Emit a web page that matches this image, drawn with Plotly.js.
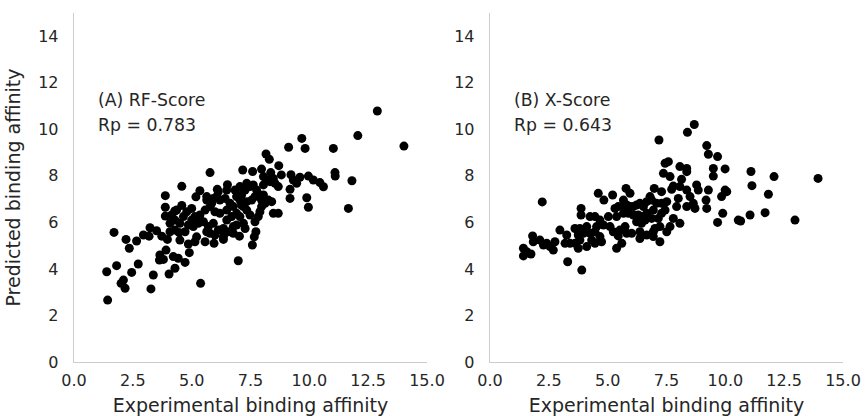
<!DOCTYPE html>
<html>
<head>
<meta charset="utf-8">
<script src="https://cdn.plot.ly/plotly-3.0.1.min.js"></script>
<style>html,body{margin:0;padding:0;background:#fff;}#chart{width:865px;height:416px;}</style>
</head>
<body>
<div id="chart"></div>
<script>
// Panel A: RF-Score (experimental vs predicted)
const rfExp = [12.89,12.06,9.68,9.12,9.82,11.02,8.16,8.30,8.70,5.78,7.17,7.59,7.97,8.36,8.81,9.22,9.60,9.96,11.09,11.10,11.81,11.66,9.89,9.96,9.18,9.18,10.17,10.45,10.60,9.32,9.46,8.47,8.68,8.40,6.52,6.09,5.18,4.58,3.88,3.88,3.88,4.28,4.58,1.70,2.21,2.35,2.66,2.95,3.23,3.19,3.51,3.73,3.97,4.46,1.39,1.81,1.43,2.00,2.17,2.10,2.45,2.73,3.27,3.37,3.65,3.80,3.63,3.91,4.04,4.29,4.22,4.43,4.72,4.90,4.86,5.38,6.98,7.58,7.66,7.73,7.03,6.35,5.95,5.57,5.21,5.14,14.02,
5.35,5.64,5.85,6.06,6.20,6.42,6.63,6.77,6.49,6.20,5.99,5.78,5.57,5.35,5.14,5.00,4.86,5.07,5.28,5.50,5.71,5.92,6.13,6.35,6.49,6.70,6.91,7.05,7.12,7.27,7.34,7.48,7.62,7.76,7.90,8.05,8.19,8.33,8.54,8.68,7.97,7.90,7.83,7.69,7.48,7.34,7.20,7.05,6.91,6.77,7.20,7.27,6.77,6.56,6.35,5.99,5.78,5.64,5.00,4.79,4.65,4.50,4.29,4.08,4.15,4.36,4.08,4.29,4.72,4.50,8.05,8.47,8.05,7.69,7.55,7.34,7.12,6.91,6.84,7.05,6.49,6.13,5.92,5.64,7.97,8.12,8.26];
const rfPred = [10.79,9.73,9.61,9.23,9.18,9.18,8.94,8.71,8.44,8.14,8.25,8.19,8.29,8.14,8.04,8.05,7.94,7.99,8.14,7.99,7.79,6.60,7.06,6.65,7.42,7.03,7.82,7.71,7.53,7.82,7.68,6.39,6.39,6.89,7.62,7.42,7.10,7.55,7.15,6.65,6.27,6.49,6.73,5.57,5.27,4.89,5.20,5.46,5.77,5.41,5.64,5.41,5.27,5.57,3.88,4.14,2.66,3.38,3.17,3.52,3.85,4.21,3.14,3.74,4.60,4.41,4.38,4.81,3.78,4.03,4.53,4.46,4.28,4.70,5.07,3.38,4.35,5.03,5.38,5.60,5.41,5.27,5.10,5.17,5.38,5.17,9.28,
7.36,6.96,6.82,7.11,6.96,7.03,6.82,6.68,6.53,6.39,6.46,6.68,6.53,6.32,6.25,6.10,5.89,5.82,5.96,6.03,5.82,5.96,5.67,5.74,6.10,6.25,6.39,6.96,7.18,7.39,7.68,7.54,7.61,7.39,7.18,7.18,7.82,7.75,7.68,7.54,6.68,6.46,6.25,6.03,6.32,6.53,6.68,6.25,5.89,5.82,5.96,5.74,5.53,5.60,5.39,5.46,5.53,5.60,6.60,6.46,6.25,5.96,6.10,5.96,6.32,6.53,5.60,5.67,5.60,5.24,7.97,7.89,7.61,7.11,6.96,6.89,6.75,7.11,7.39,7.54,7.39,7.32,7.03,7.11,6.96,6.82,6.96];

// Panel B: X-Score (experimental vs predicted)
const xsExp = [8.68,8.39,7.18,9.21,9.28,9.67,9.49,9.49,9.99,11.09,12.07,13.94,11.13,11.83,11.69,12.96,11.05,10.55,10.65,9.89,9.67,9.99,10.06,9.84,9.28,9.18,9.21,7.44,7.58,7.37,7.65,8.07,8.36,8.36,8.14,8.78,8.85,8.36,8.07,7.79,7.72,6.98,7.29,8.50,8.64,8.71,8.36,8.00,7.93,
7.79,8.07,7.65,7.51,7.22,7.01,6.94,7.22,7.29,7.44,7.29,7.51,7.08,6.94,6.87,7.15,6.80,6.87,6.66,6.52,6.37,6.23,6.09,5.95,5.81,5.67,5.45,5.31,6.66,6.52,6.30,6.09,5.88,5.67,6.23,6.44,6.59,5.78,5.95,5.67,5.21,4.84,4.60,
5.38,5.03,4.67,4.46,4.53,4.82,5.10,5.24,5.52,5.74,5.81,5.45,5.38,5.60,6.02,6.37,6.37,6.94,6.66,3.87,3.87,4.25,4.11,3.82,3.61,3.75,3.97,4.25,4.46,4.67,4.32,3.82,3.61,3.40,3.75,4.11,4.46,4.74,2.97,3.26,3.19,3.30,3.90,2.22,1.81,1.84,2.12,2.27,2.41,2.55,2.69,2.76,1.42,1.42,1.74,1.56];
const xsPred = [10.21,9.87,9.54,9.30,8.93,8.83,8.32,7.99,8.30,8.19,7.97,7.89,7.58,7.21,6.42,6.10,6.32,6.10,6.06,6.39,6.00,7.39,7.32,7.11,7.39,6.96,6.60,8.54,8.61,8.11,7.97,8.40,8.32,8.18,7.85,7.61,7.39,7.39,7.54,7.56,7.42,7.46,7.32,7.11,6.82,6.60,6.68,7.03,6.68,
6.17,5.96,5.82,5.60,5.82,5.74,5.39,5.17,6.39,6.53,6.82,6.89,6.82,6.53,6.17,6.17,7.11,6.96,6.89,6.68,6.82,6.75,6.68,6.68,6.75,6.68,6.68,6.60,6.39,6.25,6.32,6.32,6.39,6.39,6.03,5.96,6.10,7.46,7.25,6.96,7.18,6.96,7.25,
6.25,6.25,6.10,6.25,5.82,5.89,5.82,5.60,5.67,5.82,5.53,5.42,4.89,5.10,5.53,5.60,5.31,5.60,5.46,6.60,6.32,6.25,5.82,5.74,5.74,5.46,5.53,5.53,5.60,5.39,5.24,5.24,5.10,5.10,4.89,4.96,5.10,5.17,5.67,5.46,5.10,4.31,3.95,6.88,5.42,5.17,5.24,5.03,5.10,4.96,4.81,5.17,4.89,4.56,4.64,4.74];

const xTicks = [0, 2.5, 5, 7.5, 10, 12.5, 15];
const xTickText = ['0.0','2.5','5.0','7.5','10.0','12.5','15.0'];
const yTicks = [0, 2, 4, 6, 8, 10, 12, 14];
const xTitle = 'Experimental binding affinity';
const yTitle = 'Predicted binding affinity';
const labelA = ['(A) RF-Score', 'Rp = 0.783'];
const labelB = ['(B) X-Score', 'Rp = 0.643'];

const font = 'DejaVu Sans, sans-serif';
const marker = {color: '#000000', size: 9, line: {width: 0}};

const traces = [
  {x: rfExp, y: rfPred, type: 'scatter', mode: 'markers', marker: marker, xaxis: 'x', yaxis: 'y', hoverinfo: 'none'},
  {x: xsExp, y: xsPred, type: 'scatter', mode: 'markers', marker: marker, xaxis: 'x2', yaxis: 'y2', hoverinfo: 'none'}
];

function xAxis(domain, anchor) {
  return {
    domain: domain, anchor: anchor, range: [0, 15],
    tickvals: xTicks, ticktext: xTickText,
    showgrid: false, zeroline: false,
    showline: true, linecolor: '#cccccc', linewidth: 1.25,
    ticks: 'outside', ticklen: 4, tickcolor: 'rgba(0,0,0,0)',
    tickfont: {family: font, size: 16, color: '#262626'},
    title: {text: xTitle, font: {family: font, size: 19, color: '#262626'}, standoff: 9},
    automargin: false, fixedrange: true
  };
}
function yAxis(anchor, withTitle) {
  const a = {
    anchor: anchor, domain: [0, 1], range: [0, 15],
    tickvals: yTicks,
    showgrid: false, zeroline: false,
    showline: true, linecolor: '#cccccc', linewidth: 1.25,
    ticks: 'outside', ticklen: 11, tickcolor: 'rgba(0,0,0,0)',
    tickfont: {family: font, size: 16, color: '#262626'},
    automargin: false, fixedrange: true
  };
  if (withTitle) a.title = {text: yTitle, font: {family: font, size: 19, color: '#262626'}, standoff: 12};
  return a;
}

function notes(label, xref, yref) {
  return [
    {text: label[0], x: 0.95, y: 11.26, xref: xref, yref: yref, xanchor: 'left', yanchor: 'middle', showarrow: false, font: {family: font, size: 17.3, color: '#262626'}},
    {text: label[1], x: 0.95, y: 10.18, xref: xref, yref: yref, xanchor: 'left', yanchor: 'middle', showarrow: false, font: {family: font, size: 17.3, color: '#262626'}}
  ];
}

const layout = {
  width: 865, height: 416,
  margin: {l: 0, r: 0, t: 13, b: 54},
  paper_bgcolor: '#ffffff', plot_bgcolor: '#ffffff',
  showlegend: false,
  xaxis: xAxis([74/865, 427/865], 'y'),
  yaxis: yAxis('x', true),
  xaxis2: xAxis([490/865, 843/865], 'y2'),
  yaxis2: yAxis('x2', false),
  annotations: notes(labelA, 'x', 'y').concat(notes(labelB, 'x2', 'y2'))
};

Plotly.newPlot('chart', traces, layout, {staticPlot: true, displayModeBar: false});
</script>
</body>
</html>
